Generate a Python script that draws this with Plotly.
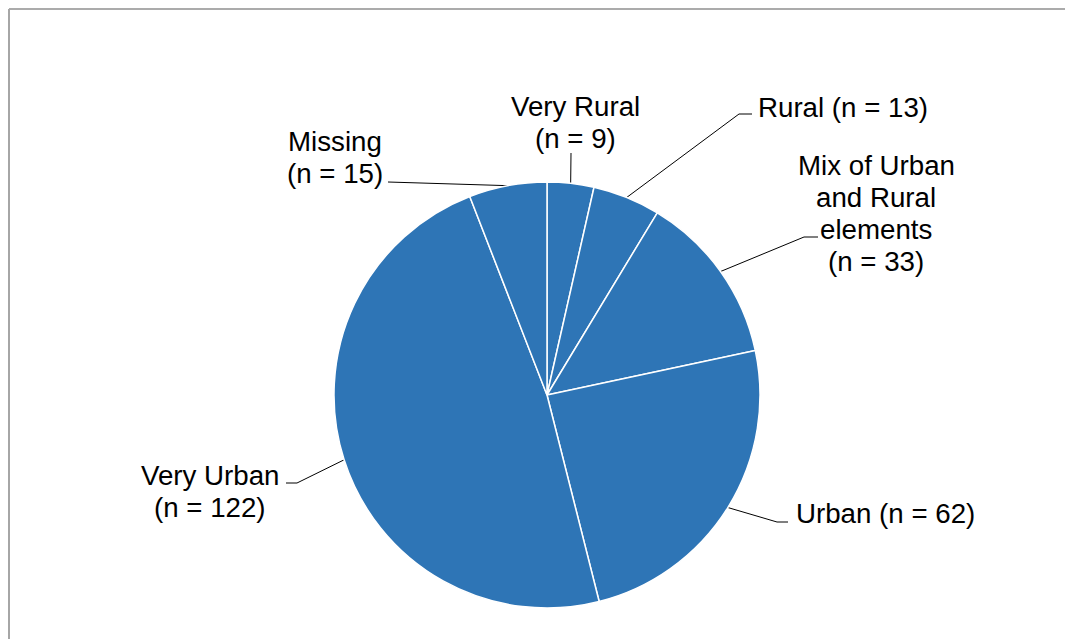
import math
import plotly.graph_objects as go

# data
categories = ["Very Rural", "Rural", "Mix of Urban and Rural elements",
              "Urban", "Very Urban", "Missing"]
counts = [9, 13, 33, 62, 122, 15]
label_lines = [
    ["Very Rural", "(n = {n})"],
    ["Rural (n = {n})"],
    ["Mix of Urban", "and Rural", "elements", "(n = {n})"],
    ["Urban (n = {n})"],
    ["Very Urban", "(n = {n})"],
    ["Missing", "(n = {n})"],
]

OFF = 8  # page margin around the figure div
W, H = 1073 - OFF, 639 - OFF
CX, CY, R = 547, 395, 213
BLUE = "#2E75B6"
FONT = dict(family="Liberation Sans, Arial, sans-serif", size=27.7, color="#000000")
LINE_GAP = 32

# label placement (page pixel space): leader elbow/end points and text anchor
label_layout = [
    dict(leader=[(571, 153)], x=575, y=106, xanchor="center"),
    dict(leader=[(739, 114), (752, 114)], x=756, y=107, xanchor="left"),
    dict(leader=[(804, 237), (818, 237)], x=876, y=165, xanchor="center"),
    dict(leader=[(777, 522), (788, 522)], x=794, y=513, xanchor="left"),
    dict(leader=[(297, 483), (286, 483)], x=210, y=475, xanchor="center"),
    dict(leader=[(388, 182)], x=335, y=141, xanchor="center"),
]

fig = go.Figure()

fig.add_trace(
    go.Pie(
        labels=categories,
        values=counts,
        sort=False,
        direction="clockwise",
        rotation=0,
        marker=dict(colors=[BLUE] * len(counts), line=dict(color="white", width=1.5)),
        textinfo="none",
        hoverinfo="label+value",
        showlegend=False,
        domain=dict(
            x=[(CX - R - OFF) / W, (CX + R - OFF) / W],
            y=[1 - (CY + R - OFF) / H, 1 - (CY - R - OFF) / H],
        ),
    )
)

# leader lines, starting at the middle of each slice's arc
total = sum(counts)
cum = 0
annotations = []
for n, lines, lay in zip(counts, label_lines, label_layout):
    mid = (cum + n / 2) / total * 2 * math.pi
    cum += n
    px = CX + R * math.sin(mid)
    py = CY - R * math.cos(mid)
    xs = [px] + [p[0] for p in lay["leader"]]
    ys = [py] + [p[1] for p in lay["leader"]]
    fig.add_trace(
        go.Scatter(
            x=xs, y=ys, mode="lines",
            line=dict(color="#000000", width=1),
            hoverinfo="skip", showlegend=False,
        )
    )
    for i, t in enumerate(lines):
        annotations.append(
            dict(
                x=lay["x"], y=lay["y"] + i * LINE_GAP,
                xref="x", yref="y",
                text=t.format(n=n),
                showarrow=False,
                xanchor=lay["xanchor"], yanchor="middle",
                font=FONT,
            )
        )

fig.update_layout(
    width=W,
    height=H,
    margin=dict(l=0, r=0, t=0, b=0),
    paper_bgcolor="white",
    plot_bgcolor="rgba(0,0,0,0)",
    xaxis=dict(range=[OFF, W + OFF], visible=False, fixedrange=True),
    yaxis=dict(range=[H + OFF, OFF], visible=False, fixedrange=True),
    annotations=annotations,
    shapes=[
        dict(type="line", xref="x", yref="y", x0=9, y0=9, x1=W + 20, y1=9,
             line=dict(color="#8f8f8f", width=1.5)),
        dict(type="line", xref="x", yref="y", x0=9, y0=9, x1=9, y1=H + 20,
             line=dict(color="#a6a6a6", width=2)),
    ],
)

fig.write_html("out.html", post_script="document.body.style.overflow = 'hidden';")
